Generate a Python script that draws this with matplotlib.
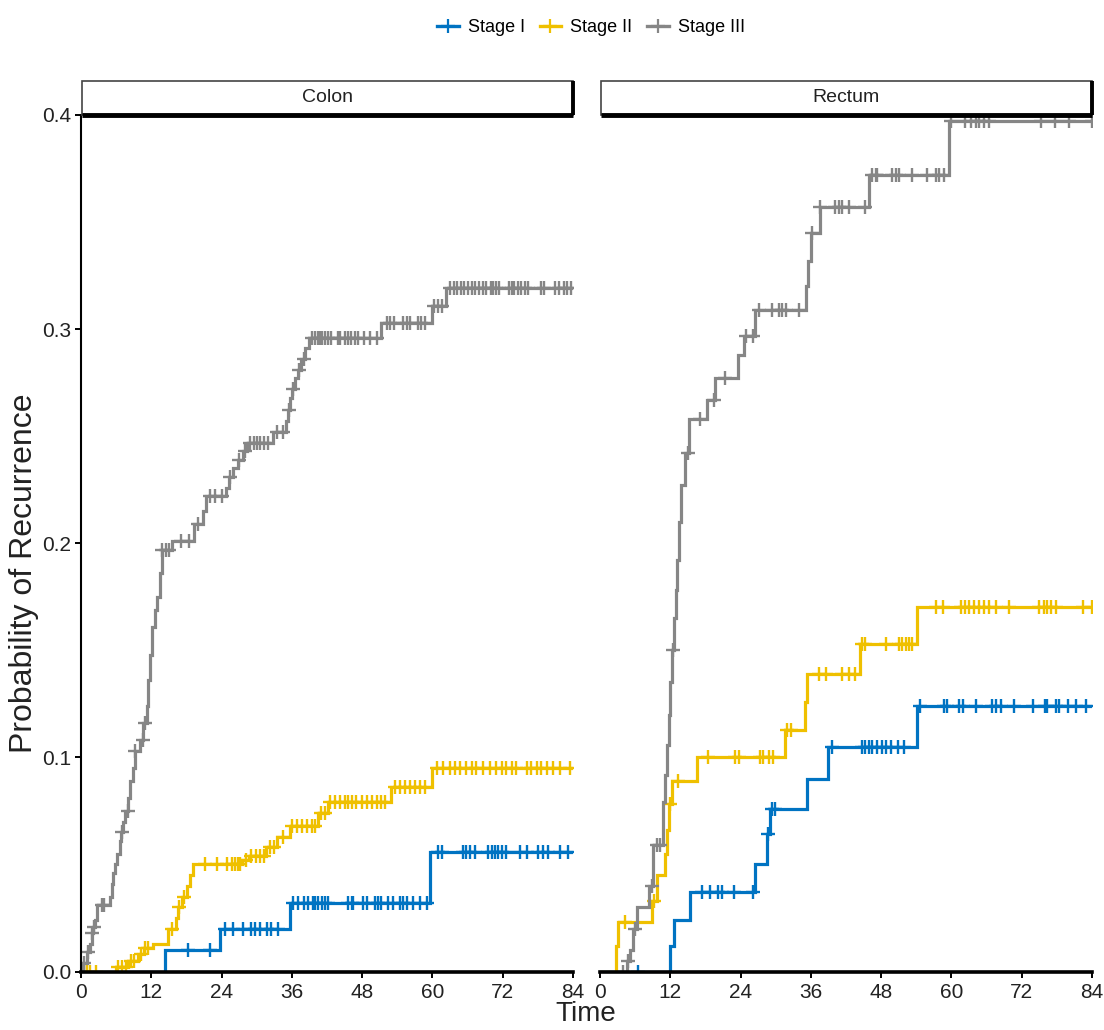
import numpy as np
import matplotlib.pyplot as plt
from matplotlib.lines import Line2D
from matplotlib.patches import Rectangle

NARROW = ['Liberation Sans Narrow', 'Liberation Sans', 'DejaVu Sans']
REGULAR = ['Liberation Sans', 'DejaVu Sans']
plt.rcParams['font.family'] = NARROW

stages = ['Stage I', 'Stage II', 'Stage III']
colors = ['#0073C2', '#EFC000', '#868686']
panels = ['Colon', 'Rectum']
x_ticks = [0, 12, 24, 36, 48, 60, 72, 84]
y_ticks = [0.0, 0.1, 0.2, 0.3, 0.4]

# ---- Colon ----
colon_t1 = [0, 14.3, 23.7, 35.7, 59.6]
colon_p1 = [0, 0.010, 0.020, 0.032, 0.056]
colon_c1 = [18.3, 22.0, 24.6, 26.0, 27.7, 29.1, 29.7, 30.5, 31.7, 32.5, 33.7, 36.2, 37.1, 38.0,
            38.8, 39.6, 39.9, 40.5, 41.1, 41.6, 42.2, 45.6, 46.2, 46.5, 48.2, 48.8, 50.2, 50.7,
            51.3, 52.4, 53.3, 54.4, 55.0, 55.6, 56.7, 57.8, 59.0, 61.0, 61.6, 65.2, 65.8, 66.4,
            67.2, 69.5, 70.1, 70.6, 71.2, 71.8, 72.6, 74.9, 76.1, 78.0, 78.9, 79.7, 81.7, 83.2]

colon_t2 = [0, 6.0, 8.1, 9.8, 10.7, 12.3, 14.9, 16.3, 16.6, 17.2, 18.1, 18.6, 19.2, 27.5, 28.6,
            31.6, 33.4, 35.7, 40.4, 42.2, 53.0, 60.0]
colon_p2 = [0, 0.002, 0.005, 0.008, 0.011, 0.013, 0.020, 0.025, 0.030, 0.035, 0.040, 0.045, 0.050,
            0.052, 0.054, 0.058, 0.063, 0.068, 0.074, 0.079, 0.086, 0.095]
colon_c2 = [0.5, 1.0, 1.5, 2.5, 6.3, 7.0, 7.6, 8.5, 9.0, 10.2, 11.0, 11.5, 15.5, 16.8, 17.5, 21.2,
            23.2, 24.9, 25.7, 26.3, 26.8, 27.2, 28.2, 29.0, 29.8, 30.5, 31.2, 32.3, 33.0, 34.5,
            36.0, 36.9, 37.7, 38.6, 39.4, 40.0, 40.9, 41.7, 42.5, 43.3, 44.2, 45.1, 45.6, 46.2,
            47.0, 47.9, 48.8, 49.6, 50.5, 51.3, 51.9, 53.6, 54.4, 55.3, 56.1, 57.0, 57.8, 58.7,
            60.7, 61.8, 63.0, 63.8, 64.7, 65.8, 66.7, 67.5, 68.7, 69.8, 70.9, 71.8, 72.6, 73.5,
            74.3, 76.1, 76.9, 77.8, 78.6, 79.5, 80.6, 81.7, 83.5]

colon_t3 = [0, 0.3, 1.0, 1.5, 1.8, 2.1, 2.4, 2.7, 5.0, 5.3, 5.5, 5.8, 6.1, 6.7, 6.9, 7.2, 7.5, 8.1,
            8.4, 8.9, 9.2, 10.1, 10.6, 11.2, 11.5, 11.8, 12.1, 12.6, 12.9, 13.5, 13.8, 15.6, 19.3,
            20.8, 21.4, 24.8, 25.3, 26.0, 26.8, 27.6, 28.4, 32.8, 35.0, 35.3, 35.6, 36.0, 36.5,
            37.0, 37.5, 38.2, 38.9, 51.3, 59.9, 62.4]
colon_p3 = [0, 0.004, 0.009, 0.013, 0.018, 0.021, 0.024, 0.031, 0.035, 0.041, 0.046, 0.050, 0.055,
            0.061, 0.065, 0.070, 0.075, 0.081, 0.089, 0.095, 0.103, 0.108, 0.116, 0.124, 0.136,
            0.148, 0.161, 0.169, 0.175, 0.186, 0.197, 0.201, 0.209, 0.215, 0.222, 0.226, 0.231,
            0.235, 0.239, 0.243, 0.247, 0.252, 0.257, 0.262, 0.268, 0.272, 0.277, 0.281, 0.286,
            0.291, 0.296, 0.303, 0.311, 0.319]
colon_c3 = [0.5, 1.2, 1.9, 2.2, 3.5, 4.0, 7.0, 8.0, 9.3, 10.5, 11.0, 13.9, 14.5, 15.0, 17.0, 18.5,
            20.0, 22.0, 22.8, 24.0, 25.5, 27.0, 28.0, 28.8, 29.5, 30.0, 30.5, 31.2, 32.0, 33.5,
            34.5, 35.5, 36.2, 37.2, 38.0, 39.4, 39.9, 40.4, 40.8, 41.2, 41.7, 42.1, 42.7, 43.8,
            44.3, 45.0, 45.6, 46.1, 46.7, 47.3, 48.4, 49.3, 50.5, 52.3, 52.8, 53.5, 55.0, 55.6,
            56.2, 57.5, 58.0, 58.8, 60.3, 60.9, 61.6, 63.0, 63.6, 64.2, 64.8, 65.4, 66.0, 66.7,
            67.3, 68.0, 68.6, 69.2, 70.0, 70.4, 70.8, 71.3, 73.0, 73.5, 74.0, 74.6, 75.2, 75.8,
            76.3, 78.5, 79.0, 81.0, 81.6, 82.5, 83.0, 83.6]

# ---- Rectum ----
rectum_t1 = [0, 12.0, 12.6, 15.4, 26.5, 28.5, 29.0, 35.3, 38.9, 54.1]
rectum_p1 = [0, 0.012, 0.024, 0.037, 0.050, 0.064, 0.076, 0.090, 0.105, 0.124]
rectum_c1 = [6.5, 17.4, 18.8, 20.2, 20.8, 22.8, 26.2, 28.7, 29.3, 29.8, 39.6, 44.8, 45.3, 45.9,
             46.5, 47.3, 48.2, 48.8, 49.6, 50.8, 51.9, 54.7, 58.7, 59.3, 61.3, 61.9, 64.2, 67.0,
             67.6, 68.4, 70.7, 73.9, 75.9, 76.4, 77.8, 78.4, 79.9, 81.3, 83.0]

rectum_t2 = [0, 2.7, 3.0, 8.8, 9.7, 11.1, 11.4, 11.8, 12.3, 16.5, 31.6, 35.0, 35.3, 44.4, 54.1]
rectum_p2 = [0, 0.012, 0.023, 0.033, 0.045, 0.055, 0.066, 0.078, 0.089, 0.100, 0.113, 0.126,
             0.139, 0.153, 0.170]
rectum_c2 = [4.3, 9.2, 11.9, 13.4, 18.5, 23.1, 23.7, 27.4, 27.9, 28.8, 29.6, 32.0, 32.6, 37.4,
             38.5, 41.4, 42.5, 43.6, 44.8, 45.3, 48.8, 51.0, 51.6, 52.2, 52.7, 53.3, 57.3, 58.5,
             61.6, 62.4, 63.0, 63.9, 64.7, 65.6, 66.4, 67.6, 69.9, 75.0, 75.8, 76.4, 77.0, 77.8,
             82.4, 84.0]

rectum_t3 = [0, 4.6, 5.1, 5.7, 6.3, 8.3, 9.1, 10.8, 11.1, 11.4, 11.7, 12.0, 12.3, 12.6, 12.9, 13.2,
             13.5, 13.8, 14.5, 15.2, 18.2, 19.6, 23.6, 24.5, 26.5, 35.1, 35.5, 36.0, 37.5, 46.0,
             59.6]
rectum_p3 = [0, 0.005, 0.010, 0.020, 0.030, 0.040, 0.059, 0.079, 0.092, 0.106, 0.120, 0.135,
             0.150, 0.165, 0.178, 0.192, 0.210, 0.227, 0.242, 0.258, 0.267, 0.277, 0.288, 0.297,
             0.309, 0.320, 0.332, 0.345, 0.357, 0.372, 0.397]
rectum_c3 = [4.0, 4.8, 6.0, 8.8, 9.8, 10.2, 12.5, 15.0, 17.0, 19.4, 21.3, 25.0, 26.2, 27.1, 29.4,
             30.5, 31.1, 31.7, 33.9, 36.2, 37.6, 40.2, 40.8, 41.4, 42.5, 45.3, 46.5, 47.1, 47.3,
             49.9, 50.5, 51.1, 53.3, 55.9, 57.3, 57.9, 58.7, 59.9, 62.4, 63.3, 64.2, 64.7, 65.6,
             66.4, 75.3, 77.6, 80.1, 84.0]

curves = {
    'Colon': [(colon_t1, colon_p1, colon_c1), (colon_t2, colon_p2, colon_c2), (colon_t3, colon_p3, colon_c3)],
    'Rectum': [(rectum_t1, rectum_p1, rectum_c1), (rectum_t2, rectum_p2, rectum_c2), (rectum_t3, rectum_p3, rectum_c3)],
}

W, H = 1104, 1030
fig = plt.figure(figsize=(W / 100, H / 100), dpi=100)

bottom = (H - 971.5) / H
height = (971.5 - 115) / H
lefts = [81, 600]
width = 492

for k, panel in enumerate(panels):
    ax = fig.add_axes([lefts[k] / W, bottom, width / W, height])
    for (t, p, c), col in zip(curves[panel], colors):
        t = np.asarray(t)
        p = np.asarray(p)
        xs = np.append(t, 84)
        ys = np.append(p, p[-1])
        ax.step(xs, ys, where='post', color=col, lw=2.3, solid_joinstyle='miter')
        c = np.asarray(c)
        cy = p[np.searchsorted(t, c, side='right') - 1]
        ax.plot(c, cy, ls='none', marker='+', ms=10, mew=1.7, color=col)
    ax.set_xlim(0, 84)
    ax.set_ylim(0, 0.4)
    ax.set_xticks(x_ticks)
    ax.set_yticks(y_ticks)
    ax.tick_params(length=4, width=1.4, color='black', labelsize=15, labelcolor='#222222')
    ax.tick_params(axis='x', pad=4)
    ax.tick_params(axis='y', pad=3)
    for s in ['top', 'right']:
        ax.spines[s].set_visible(False)
    ax.spines['bottom'].set_linewidth(2.6)
    ax.spines['left'].set_linewidth(1.5)
    if k == 1:
        ax.spines['left'].set_visible(False)
        ax.tick_params(axis='y', left=False, labelleft=False)
    else:
        ax.set_yticklabels(['%.1f' % v for v in y_ticks])

    # facet strip
    sax = fig.add_axes([(lefts[k] + 1) / W, (H - 115) / H, (width - 1) / W, 34 / H])
    sax.set_xlim(0, 1)
    sax.set_ylim(0, 1)
    sax.axis('off')
    sax.add_patch(Rectangle((0, 0), 1, 1, facecolor='white', edgecolor='#444444', lw=1.2,
                            transform=sax.transAxes, clip_on=False))
    sax.plot([0, 1], [0, 0], color='black', lw=3.5, transform=sax.transAxes, clip_on=False,
             solid_capstyle='butt')
    sax.plot([1, 1], [0, 1], color='black', lw=2.8, transform=sax.transAxes, clip_on=False,
             solid_capstyle='butt')
    sax.text(0.5, 0.5, panel, ha='center', va='center', fontsize=14, color='#222222')

fig.text(24 / W, 1 - 573 / H, 'Probability of Recurrence', rotation=90, ha='center',
         va='center', fontsize=23, family=REGULAR, color='#222222')
fig.text(586 / W, 3 / H, 'Time', ha='center', va='bottom', fontsize=20, color='#222222')

handles = [Line2D([], [], color=col, lw=2.4, marker='+', ms=10, mew=1.6) for col in colors]
fig.legend(handles, stages, loc='center', bbox_to_anchor=(591 / W, 1 - 28 / H), ncol=3,
           frameon=False, fontsize=13, handlelength=1.2, handletextpad=0.5, columnspacing=0.8)

fig.savefig('out.png', dpi=100)
